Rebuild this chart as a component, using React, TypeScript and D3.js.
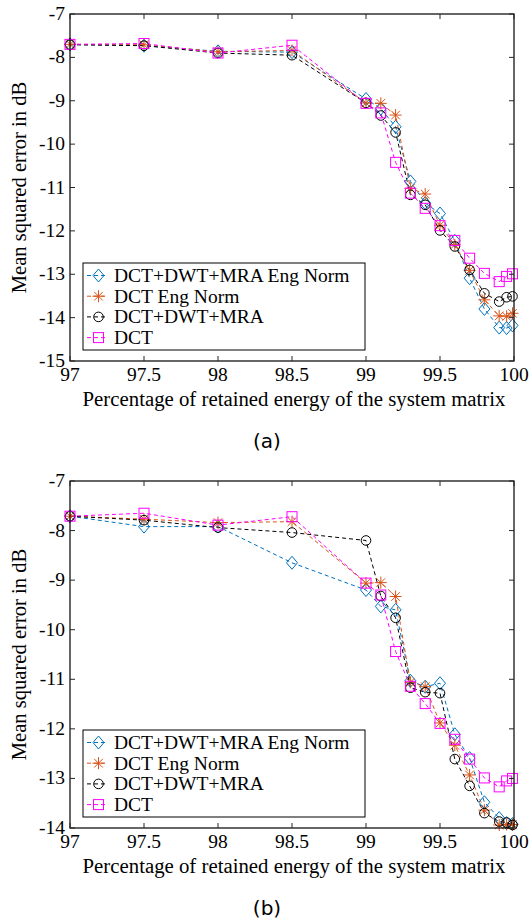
import React from 'react';
import * as d3 from 'd3';

const xs = [97, 97.5, 98, 98.5, 99, 99.1, 99.2, 99.3, 99.4, 99.5, 99.6, 99.7, 99.8, 99.9, 99.95, 99.99];

// panel (a)
const aEngNorm = [-7.7, -7.73, -7.86, -7.88, -8.96, -9.18, -9.6, -10.86, -11.36, -11.6, -12.23, -13.09, -13.8, -14.23, -14.24, -14.18];
const aDctEng = [-7.7, -7.71, -7.87, -7.84, -9.05, -9.06, -9.33, -11.02, -11.15, -11.87, -12.32, -12.91, -13.59, -13.96, -13.97, -13.9];
const aMra = [-7.71, -7.73, -7.9, -7.95, -9.05, -9.34, -9.73, -11.17, -11.4, -11.99, -12.36, -12.9, -13.44, -13.63, -13.53, -13.51];
const aDct = [-7.7, -7.68, -7.9, -7.72, -9.06, -9.28, -10.42, -11.13, -11.48, -11.88, -12.22, -12.63, -12.98, -13.17, -13.05, -12.99];

// panel (b)
const bEngNorm = [-7.71, -7.92, -7.92, -8.65, -9.2, -9.53, -9.6, -11.03, -11.15, -11.08, -12.11, -12.59, -13.48, -13.8, -13.9, -13.92];
const bDctEng = [-7.71, -7.77, -7.84, -7.82, -9.06, -9.05, -9.33, -11.06, -11.15, -11.88, -12.33, -12.93, -13.64, -13.94, -13.93, -13.93];
const bMra = [-7.71, -7.79, -7.94, -8.04, -8.2, -9.32, -9.76, -11.17, -11.26, -11.28, -12.61, -13.15, -13.7, -13.87, -13.89, -13.94];
const bDct = [-7.71, -7.65, -7.89, -7.72, -9.06, -9.3, -10.44, -11.14, -11.49, -11.89, -12.21, -12.61, -12.99, -13.17, -13.05, -13.0];

const seriesNames = ['DCT+DWT+MRA Eng Norm', 'DCT Eng Norm', 'DCT+DWT+MRA', 'DCT'];
const seriesColors = ['#0072BD', '#D95319', '#000000', '#FF00FF'];
const seriesMarkers = ['diamond', 'star', 'circle', 'square'];

const xTicks = [97, 97.5, 98, 98.5, 99, 99.5, 100];
const aYTicks = [-7, -8, -9, -10, -11, -12, -13, -14, -15];
const bYTicks = [-7, -8, -9, -10, -11, -12, -13, -14];

const FONT = 'Liberation Serif';

function Marker({ kind, x, y, color }: { kind: string; x: number; y: number; color: string }) {
  const common = { fill: 'none', stroke: color, strokeWidth: 1 };
  if (kind === 'diamond') {
    return <path d={`M${x},${y - 6.5}L${x + 5.5},${y}L${x},${y + 6.5}L${x - 5.5},${y}Z`} {...common} />;
  }
  if (kind === 'square') {
    return <rect x={x - 5} y={y - 5} width={10} height={10} {...common} />;
  }
  if (kind === 'circle') {
    return <circle cx={x} cy={y} r={4.8} {...common} />;
  }
  const r = 6, d = 4.3;
  return (
    <path
      d={`M${x - r},${y}H${x + r}M${x},${y - r}V${y + r}M${x - d},${y - d}L${x + d},${y + d}M${x - d},${y + d}L${x + d},${y - d}`}
      {...common}
    />
  );
}

function Panel({ top, bottom, yMin, yTicks, series, legendTop, caption, captionY }: any) {
  const left = 70, right = 514;
  const x = d3.scaleLinear().domain([97, 100]).range([left, right]);
  const y = d3.scaleLinear().domain([-7, yMin]).range([top, bottom]);
  const line = d3.line<number>().x((_, i) => x(xs[i])).y(d => y(d));
  const tl = 5;
  return (
    <g fontFamily={FONT} fontSize={19.5} fill="#000">
      {series.map((s: number[], k: number) => (
        <path key={'l' + k} d={line(s) || ''} fill="none" stroke={seriesColors[k]} strokeWidth={1} strokeDasharray="4,3" />
      ))}
      {series.map((s: number[], k: number) =>
        s.map((v, i) => <Marker key={`m${k}-${i}`} kind={seriesMarkers[k]} x={x(xs[i])} y={y(v)} color={seriesColors[k]} />)
      )}
      <rect x={left} y={top} width={right - left} height={bottom - top} fill="none" stroke="#000" strokeWidth={1.2} />
      {xTicks.map(t => (
        <g key={'xt' + t}>
          <line x1={x(t)} x2={x(t)} y1={bottom} y2={bottom - tl} stroke="#262626" />
          <line x1={x(t)} x2={x(t)} y1={top} y2={top + tl} stroke="#262626" />
          <text x={x(t)} y={bottom + 20} textAnchor="middle">{String(t)}</text>
        </g>
      ))}
      {yTicks.map((t: number) => (
        <g key={'yt' + t}>
          <line x1={left} x2={left + tl} y1={y(t)} y2={y(t)} stroke="#262626" />
          <line x1={right} x2={right - tl} y1={y(t)} y2={y(t)} stroke="#262626" />
          <text x={left - 5} y={y(t) + 6} textAnchor="end">{String(t)}</text>
        </g>
      ))}
      <text x={(left + right) / 2 + 2} y={bottom + 45} textAnchor="middle" fontSize={20.8}>Percentage of retained energy of the system matrix</text>
      <text transform={`translate(26,${(top + bottom) / 2}) rotate(-90)`} textAnchor="middle" fontSize={20.6}>Mean squared error in dB</text>
      <g>
        <rect x={83} y={legendTop} width={282} height={87} fill="#fff" stroke="#000" strokeWidth={1} />
        {seriesNames.map((n, k) => {
          const ly = legendTop + 12.5 + k * 20.7;
          return (
            <g key={'lg' + k}>
              <line x1={87} x2={108} y1={ly} y2={ly} stroke={seriesColors[k]} strokeDasharray="4,3" />
              <Marker kind={seriesMarkers[k]} x={98.5} y={ly} color={seriesColors[k]} />
              <text x={114} y={ly + 6.5}>{n}</text>
            </g>
          );
        })}
      </g>
      <text x={267} y={captionY} textAnchor="middle" fontFamily="DejaVu Sans" fontSize={20}>{caption}</text>
    </g>
  );
}

export default function App() {
  return (
    <svg width={530} height={922} style={{ position: 'absolute', left: 0, top: 0, background: '#fff' }}>
      <Panel top={14} bottom={361} yMin={-15} yTicks={aYTicks} series={[aEngNorm, aDctEng, aMra, aDct]} legendTop={263} caption="(a)" captionY={448} />
      <Panel top={481} bottom={828} yMin={-14} yTicks={bYTicks} series={[bEngNorm, bDctEng, bMra, bDct]} legendTop={730} caption="(b)" captionY={915} />
    </svg>
  );
}
